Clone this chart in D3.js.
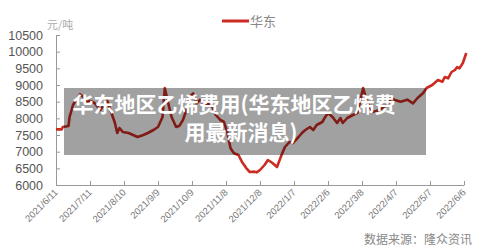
<!DOCTYPE html>
<html>
<head>
<meta charset="utf-8">
<script src="https://cdn.jsdelivr.net/npm/d3@7"></script>
<style>
  body { margin: 0; background: #fff; }
  svg { display: block; font-family: "Noto Sans CJK SC", "Noto Sans", sans-serif; }
</style>
</head>
<body>
<div id="chart"></div>
<script>
// 华东乙烯价格 (元/吨)
var dates = [
  "2021-06-11","2021-06-16","2021-06-17","2021-06-22","2021-06-23","2021-06-26","2021-06-30","2021-07-02",
  "2021-07-05","2021-07-08","2021-07-11","2021-07-15","2021-07-20","2021-07-22","2021-07-26","2021-07-29",
  "2021-08-02","2021-08-04","2021-08-06","2021-08-09","2021-08-14","2021-08-18","2021-08-22","2021-08-27",
  "2021-08-31","2021-09-05","2021-09-09","2021-09-13","2021-09-15","2021-09-18","2021-09-21","2021-09-25",
  "2021-09-28","2021-10-01","2021-10-05","2021-10-07","2021-10-10","2021-10-13","2021-10-16","2021-10-20",
  "2021-10-23","2021-10-27","2021-10-30","2021-11-03","2021-11-06","2021-11-09","2021-11-12","2021-11-15",
  "2021-11-19","2021-11-22","2021-11-26","2021-11-29","2021-12-03","2021-12-05","2021-12-08","2021-12-12",
  "2021-12-15","2021-12-19","2021-12-23","2021-12-27","2021-12-30","2022-01-03","2022-01-06","2022-01-11",
  "2022-01-14","2022-01-17","2022-01-21","2022-01-24","2022-01-27","2022-02-01","2022-02-03","2022-02-06",
  "2022-02-10","2022-02-14","2022-02-17","2022-02-19","2022-02-23","2022-02-28","2022-03-04","2022-03-06",
  "2022-03-09","2022-03-12","2022-03-17","2022-03-21","2022-03-26","2022-03-30","2022-04-03","2022-04-06",
  "2022-04-11","2022-04-17","2022-04-22","2022-04-26","2022-05-01","2022-05-04","2022-05-09","2022-05-11",
  "2022-05-14","2022-05-18","2022-05-20","2022-05-23","2022-05-26","2022-05-29","2022-05-31","2022-06-02",
  "2022-06-05","2022-06-08"
];
var prices = [
  7670,7670,7740,7770,8040,8400,8620,8720,
  8650,8490,8520,8460,8250,8340,8550,8250,
  7860,7560,7710,7590,7560,7500,7440,7500,
  7560,7650,7740,8040,8910,8460,8040,7740,
  7780,7950,8340,8650,8750,8450,8550,8400,
  8450,8350,8100,7950,7900,7600,7100,6950,
  6900,6700,6500,6390,6400,6380,6450,6600,
  6750,6660,6540,6900,7140,7290,7260,7440,
  7560,7650,7740,7650,7800,7890,8010,8160,
  8040,7860,8010,7860,8010,8100,8160,8460,
  8910,8550,8190,8220,8310,8400,8610,8550,
  8500,8560,8450,8610,8760,8910,9000,9060,
  9150,9100,9240,9200,9390,9450,9540,9500,
  9660,9960
];
var tickDates = ["2021/6/11","2021/7/11","2021/8/10","2021/9/9","2021/10/9","2021/11/8","2021/12/8",
  "2022/1/7","2022/2/6","2022/3/8","2022/4/7","2022/5/7","2022/6/6"];
var yTicks = [6000,6500,7000,7500,8000,8500,9000,9500,10000,10500];
var seriesName = "华东";
var unit = "元/吨";
var source = "数据来源：隆众资讯";
var overlayLines = ["华东地区乙烯费用(华东地区乙烯费", "用最新消息)"];

var width = 491, height = 246;
var margin = {top: 35, right: 27, bottom: 61, left: 56};
var lineColor = "#cc2b22";

var parse = d3.timeParse("%Y-%m-%d");
var parseTick = d3.timeParse("%Y/%m/%d");
var data = dates.map(function(d, i) { return {date: parse(d), value: prices[i]}; });
var ticks = tickDates.map(function(t) { return parseTick(t); });

var svg = d3.select("#chart").append("svg")
    .attr("width", width)
    .attr("height", height);

var x = d3.scaleTime()
    .domain([ticks[0], ticks[ticks.length - 1]])
    .range([margin.left, width - margin.right]);

var y = d3.scaleLinear()
    .domain([6000, 10500])
    .range([height - margin.bottom, margin.top]);

// x axis
var xAxis = svg.append("g")
    .attr("transform", "translate(0," + (height - margin.bottom) + ")")
    .call(d3.axisBottom(x).tickValues(ticks).tickSizeInner(-4).tickSizeOuter(0)
        .tickFormat(function(d, i) { return tickDates[i]; }));
xAxis.select(".domain").attr("stroke", "#999");
xAxis.selectAll(".tick line").attr("stroke", "#999");
xAxis.selectAll(".tick text")
    .attr("fill", "#777")
    .attr("font-size", "9.5px")
    .attr("text-anchor", "end")
    .attr("dy", null)
    .attr("y", 0)
    .attr("transform", "translate(2,8) rotate(-45)");

// y axis
var yAxis = svg.append("g")
    .attr("transform", "translate(" + margin.left + ",0)")
    .call(d3.axisLeft(y).tickValues(yTicks).tickSizeInner(-4).tickSizeOuter(0).tickPadding(13)
        .tickFormat(d3.format("d")));
yAxis.select(".domain").attr("stroke", "#999");
yAxis.selectAll(".tick line").attr("stroke", "#999");
yAxis.selectAll(".tick text")
    .attr("fill", "#555")
    .attr("font-size", "12.5px");

svg.append("text")
    .attr("x", 47)
    .attr("y", 25)
    .attr("dy", "0.35em")
    .attr("fill", "#aaa")
    .attr("font-size", "11px")
    .text(unit);

// line
var line = d3.line()
    .x(function(d) { return x(d.date); })
    .y(function(d) { return y(d.value); });

svg.append("path")
    .datum(data)
    .attr("fill", "none")
    .attr("stroke", lineColor)
    .attr("stroke-width", 2.6)
    .attr("stroke-linejoin", "round")
    .attr("d", line);

// legend
svg.append("line")
    .attr("x1", 222).attr("x2", 249)
    .attr("y1", 21).attr("y2", 21)
    .attr("stroke", lineColor)
    .attr("stroke-width", 3);
svg.append("text")
    .attr("x", 250)
    .attr("y", 21)
    .attr("dy", "0.35em")
    .attr("fill", "#888")
    .attr("font-size", "13px")
    .text(seriesName);

// source
svg.append("text")
    .attr("x", 472)
    .attr("y", 240)
    .attr("dy", "0.35em")
    .attr("text-anchor", "end")
    .attr("fill", "#888")
    .attr("font-size", "12px")
    .text(source);

// overlay title box
svg.append("rect")
    .attr("x", 64).attr("y", 88)
    .attr("width", 362).attr("height", 67)
    .attr("fill", "rgba(0,0,0,0.37)");

svg.selectAll(".overlay-text")
    .data(overlayLines)
    .enter()
    .append("text")
    .attr("class", "overlay-text")
    .attr("x", function(d, i) { return i === 0 ? 234 : 241; })
    .attr("y", function(d, i) { return 112 + i * 28; })
    .attr("text-anchor", "middle")
    .attr("fill", "#fff")
    .attr("font-weight", "bold")
    .attr("font-size", "21px")
    .text(function(d) { return d; });
</script>
</body>
</html>
